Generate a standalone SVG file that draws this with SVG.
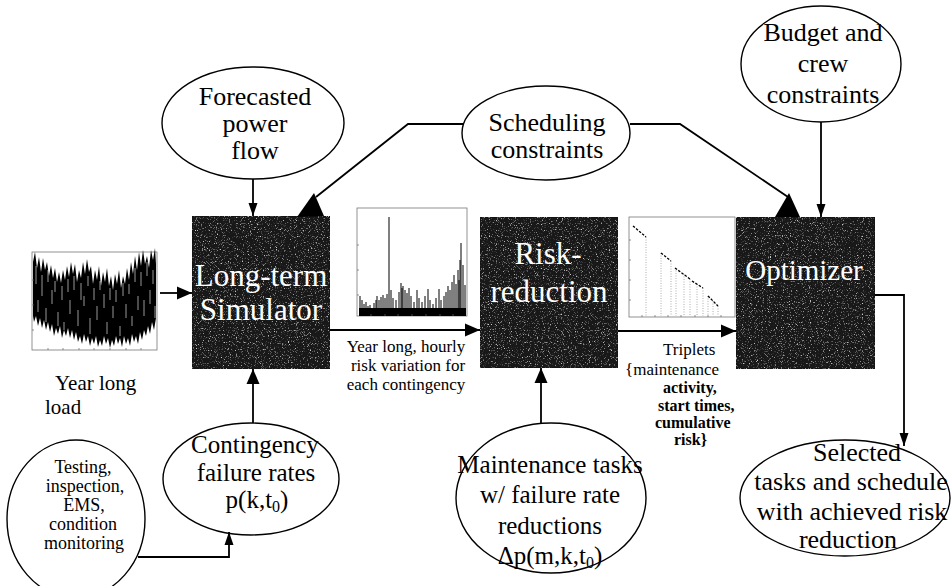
<svg xmlns="http://www.w3.org/2000/svg" width="952" height="586" viewBox="0 0 952 586">
  <defs>
    <style>
      text { font-family: "Liberation Serif", "Times New Roman", serif; fill: #000; }
      .oval { fill: #fff; stroke: #000; stroke-width: 1.4; }
      .blk { fill: #181818; stroke: #101010; stroke-width: 1; }
      .blt { fill: #fff; font-size: 31px; text-anchor: middle; }
      .ot { font-size: 26px; text-anchor: middle; }
      .mid { text-anchor: middle; }
      .wire { fill: none; stroke: #000; stroke-width: 1.8; }
      .head { fill: #000; }
      .frame { fill: #fff; stroke: #777; stroke-width: 0.8; }
      .tick { stroke: #666; stroke-width: 0.7; fill: none; }
      .drop { stroke: #999; stroke-width: 0.8; stroke-dasharray: 1 1.5; fill: none; }
    </style>
    <marker id="tipS" markerUnits="userSpaceOnUse" markerWidth="14" markerHeight="10" refX="13" refY="5" orient="auto">
      <path d="M0,0.5 L13,5 L0,9.5 z" fill="#000"/>
    </marker>
    <marker id="tipM" markerUnits="userSpaceOnUse" markerWidth="16" markerHeight="14" refX="15" refY="7" orient="auto">
      <path d="M0,0.5 L15,7 L0,13.5 z" fill="#000"/>
    </marker>
    <!-- speckled texture for the dark process blocks -->
    <filter id="grain" x="0" y="0" width="1" height="1" color-interpolation-filters="sRGB">
      <feTurbulence type="fractalNoise" baseFrequency="0.85" numOctaves="2" seed="7" result="n"/>
      <feColorMatrix in="n" type="matrix" values="0 0 0 0 0.8  0 0 0 0 0.8  0 0 0 0 0.8  4 0 0 0 -2.3" result="dots"/>
      <feComposite in="dots" in2="SourceGraphic" operator="in" result="clip"/>
      <feMerge><feMergeNode in="SourceGraphic"/><feMergeNode in="clip"/></feMerge>
    </filter>
  </defs>

  <rect width="952" height="586" fill="#fff"/>

  <!-- input / output ovals -->
  <g id="forecasted-power-flow">
    <ellipse class="oval" cx="253" cy="123" rx="91" ry="56"/>
    <text class="ot" x="255" y="105">Forecasted</text>
    <text class="ot" x="255" y="132">power</text>
    <text class="ot" x="255" y="159">flow</text>
  </g>

  <g id="scheduling-constraints">
    <ellipse class="oval" cx="546" cy="133" rx="84" ry="47"/>
    <text class="ot" x="547" y="131">Scheduling</text>
    <text class="ot" x="547" y="158">constraints</text>
  </g>

  <g id="budget-crew-constraints">
    <ellipse class="oval" cx="821" cy="64" rx="80" ry="58"/>
    <text class="ot" x="823" y="41">Budget and</text>
    <text class="ot" x="823" y="72">crew</text>
    <text class="ot" x="823" y="103">constraints</text>
  </g>

  <g id="contingency-failure-rates">
    <ellipse class="oval" cx="251" cy="479" rx="88" ry="56"/>
    <text class="ot" x="255" y="453" style="font-size:25px">Contingency</text>
    <text class="ot" x="256" y="481" style="font-size:25px">failure rates</text>
    <text class="ot" x="257" y="508" style="font-size:25px">p(k,t<tspan font-size="16" dy="4">0</tspan><tspan dy="-4">)</tspan></text>
  </g>

  <g id="testing-inspection">
    <ellipse class="oval" cx="76" cy="519" rx="69" ry="79"/>
    <text class="mid" x="83" y="473" font-size="18">Testing,</text>
    <text class="mid" x="85" y="492" font-size="18">inspection,</text>
    <text class="mid" x="84" y="511" font-size="18">EMS,</text>
    <text class="mid" x="83" y="530" font-size="18">condition</text>
    <text class="mid" x="84" y="549" font-size="18">monitoring</text>
  </g>

  <g id="maintenance-tasks">
    <ellipse class="oval" cx="551" cy="498" rx="95" ry="75"/>
    <text class="ot" x="550" y="473" style="font-size:25px">Maintenance tasks</text>
    <text class="ot" x="550" y="503" style="font-size:25px">w/ failure rate</text>
    <text class="ot" x="550" y="534" style="font-size:25px">reductions</text>
    <text class="ot" x="550" y="564" style="font-size:25px">Δp(m,k,t<tspan font-size="16" dy="4">0</tspan><tspan dy="-4">)</tspan></text>
  </g>

  <g id="selected-schedule">
    <ellipse class="oval" cx="845" cy="498" rx="105" ry="58"/>
    <text class="ot" x="857" y="461">Selected</text>
    <text class="ot" x="851" y="490">tasks and schedule</text>
    <text class="ot" x="852" y="520">with achieved risk</text>
    <text class="ot" x="848" y="548">reduction</text>
  </g>

  <!-- process blocks -->
  <g id="long-term-simulator">
    <rect class="blk" x="192" y="216" width="138" height="153" filter="url(#grain)"/>
    <text class="blt" x="261" y="286">Long-term</text>
    <text class="blt" x="261" y="320">Simulator</text>
  </g>

  <g id="risk-reduction">
    <rect class="blk" x="480" y="217" width="138" height="151" filter="url(#grain)"/>
    <text class="blt" x="548" y="264">Risk-</text>
    <text class="blt" x="549" y="302">reduction</text>
  </g>

  <g id="optimizer">
    <rect class="blk" x="736" y="217" width="139" height="152" filter="url(#grain)"/>
    <text class="blt" x="804" y="280" style="font-size:29px">Optimizer</text>
  </g>

  <!-- year-long load plot -->
  <g id="load-chart">
    <rect class="frame" x="32" y="252" width="125" height="98"/>
    <polygon fill="#000" points="33,262 35,252 37,268 39,257 41,272 43,258 45,270 47,262 49,276 51,265 53,278 55,268 57,282 59,272 61,283 63,270 65,280 67,266 69,277 71,262 73,274 75,264 77,282 79,270 81,278 83,262 85,274 87,259 89,272 91,266 93,284 95,270 97,280 99,266 101,286 103,272 105,282 107,268 109,286 111,276 113,290 115,274 117,284 119,270 121,288 123,276 125,284 127,268 129,280 131,262 133,274 135,256 137,270 139,252 141,266 143,250 145,264 147,256 149,268 151,250 153,260 155,248 156,264 156,318 154,330 152,322 150,334 148,326 146,336 144,330 142,340 140,332 138,344 136,336 134,342 132,334 130,346 128,338 126,344 124,336 122,347 120,338 118,344 116,336 114,346 112,340 110,348 108,338 106,344 104,336 102,346 100,340 98,347 96,336 94,344 92,338 90,346 88,336 86,342 84,334 82,344 80,336 78,342 76,332 74,340 72,330 70,338 68,328 66,336 64,330 62,338 60,326 58,334 56,328 54,336 52,324 50,332 48,322 46,330 44,320 42,328 40,318 38,326 36,316 34,322 33,316"/>
    <!-- light streaks through the dense trace -->
    <path fill="none" stroke="#fff" stroke-width="0.7" stroke-opacity="0.85" d="M36,266V284 M38,300V312 M42,275V296 M46,308V322 M48,270V282 M52,290V304 M55,281V292 M58,312V326 M62,286V300 M64,322V330 M68,279V292 M70,300V314 M74,276V290 M78,310V326 M81,283V300 M84,296V306 M88,276V286 M90,318V334 M94,288V300 M97,306V320 M100,281V290 M104,294V308 M107,322V334 M110,288V300 M113,306V318 M116,290V302 M120,326V336 M123,283V296 M126,304V318 M129,284V294 M132,316V326 M135,268V282 M138,296V310 M141,272V286 M144,300V316 M147,262V276 M150,290V304 M153,270V284 M155,306V318"/>
    <path class="tick" d="M48,350v-2 M63,350v-2 M79,350v-2 M94,350v-2 M110,350v-2 M126,350v-2 M141,350v-2 M32,330h2 M32,305h2 M32,280h2"/>
  </g>
  <g id="load-caption">
    <text x="55" y="390" font-size="21">Year long</text>
    <text x="45" y="414" font-size="21">load</text>
  </g>

  <!-- hourly risk plot -->
  <g id="risk-chart">
    <rect class="frame" x="357" y="208" width="110" height="108"/>
    <rect x="359" y="308" width="107" height="8" fill="#000"/>
    <path stroke="#000" stroke-width="1" fill="none" d="M360,316V296 M362,316V300 M364,316V304 M366,316V302 M368,316V306 M370,316V305 M374,316V303 M376,316V300 M377,316V296 M379,316V300 M381,316V297 M383,316V295 M385,316V298 M387,316V294 M389,316V217 M391,316V290 M393,316V298 M396,316V300 M399,316V292 M401,316V283 M402,316V288 M403,316V286 M405,316V290 M407,316V293 M409,316V288 M411,316V296 M414,316V302 M417,316V290 M419,316V298 M422,316V302 M425,316V296 M428,316V289 M430,316V300 M433,316V304 M436,316V298 M439,316V289 M441,316V300 M444,316V296 M446,316V292 M448,316V286 M450,316V290 M452,316V282 M454,316V275 M456,316V284 M458,316V270 M459,316V280 M460,316V260 M461,316V243 M463,316V265 M465,316V285"/>
    <path class="tick" d="M371,316v-2 M385,316v-2 M398,316v-2 M412,316v-2 M426,316v-2 M440,316v-2 M453,316v-2 M357,295h2 M357,270h2 M357,245h2"/>
  </g>
  <g id="risk-caption">
    <text class="mid" x="406" y="352" font-size="17">Year long, hourly</text>
    <text class="mid" x="408" y="371" font-size="17">risk variation for</text>
    <text class="mid" x="406" y="390" font-size="17">each contingency</text>
  </g>

  <!-- cumulative risk vs. schedule plot -->
  <g id="triplet-chart">
    <rect class="frame" x="629" y="217" width="106" height="100"/>
    <path class="drop" d="M646,237V316 M661,253V316 M671,261V316 M676,268V316 M684,274V316 M690,279V316 M697,284V316 M703,288V316 M708,296V316 M713,301V316 M718,306V316"/>
    <path fill="none" stroke="#000" stroke-width="1.3" stroke-dasharray="2.5 1.5" d="M633,226L646,237 M661,253L671,261 M675,268L690,279 M692,281L703,288 M708,296L718,306"/>
    <path class="tick" d="M642,317v-2 M655,317v-2 M668,317v-2 M681,317v-2 M695,317v-2 M708,317v-2 M721,317v-2 M629,300h2 M629,280h2 M629,260h2 M629,240h2"/>
  </g>
  <g id="triplet-caption">
    <text x="663" y="355" font-size="17">Triplets</text>
    <text x="625" y="375" font-size="17">{maintenance</text>
    <text x="663" y="393" font-size="16" font-weight="bold">activity,</text>
    <text x="658" y="411" font-size="16" font-weight="bold">start times,</text>
    <text x="655" y="428" font-size="16" font-weight="bold">cumulative</text>
    <text x="674" y="445" font-size="16" font-weight="bold">risk}</text>
  </g>

  <!-- connectors -->
  <g id="connectors">
    <path class="wire" d="M253,179V216" marker-end="url(#tipS)"/>
    <path class="wire" d="M463,124H408L316,197"/>
    <polygon class="head" points="297,217 324,216 314,193"/>
    <path class="wire" d="M630,124H680L788,197"/>
    <polygon class="head" points="775,217 800,217 789,193"/>
    <path class="wire" d="M821,122V217" marker-end="url(#tipS)"/>
    <path class="wire" d="M160,293H192" marker-end="url(#tipM)"/>
    <path class="wire" d="M330,330H480" marker-end="url(#tipM)"/>
    <path class="wire" d="M618,331H736" marker-end="url(#tipM)"/>
    <path class="wire" d="M253,423V369" marker-end="url(#tipM)"/>
    <path class="wire" d="M541,423V368" marker-end="url(#tipM)"/>
    <path class="wire" d="M138,557H229V532" marker-end="url(#tipS)"/>
    <path class="wire" d="M875,295H904V446" marker-end="url(#tipS)"/>
  </g>
</svg>
